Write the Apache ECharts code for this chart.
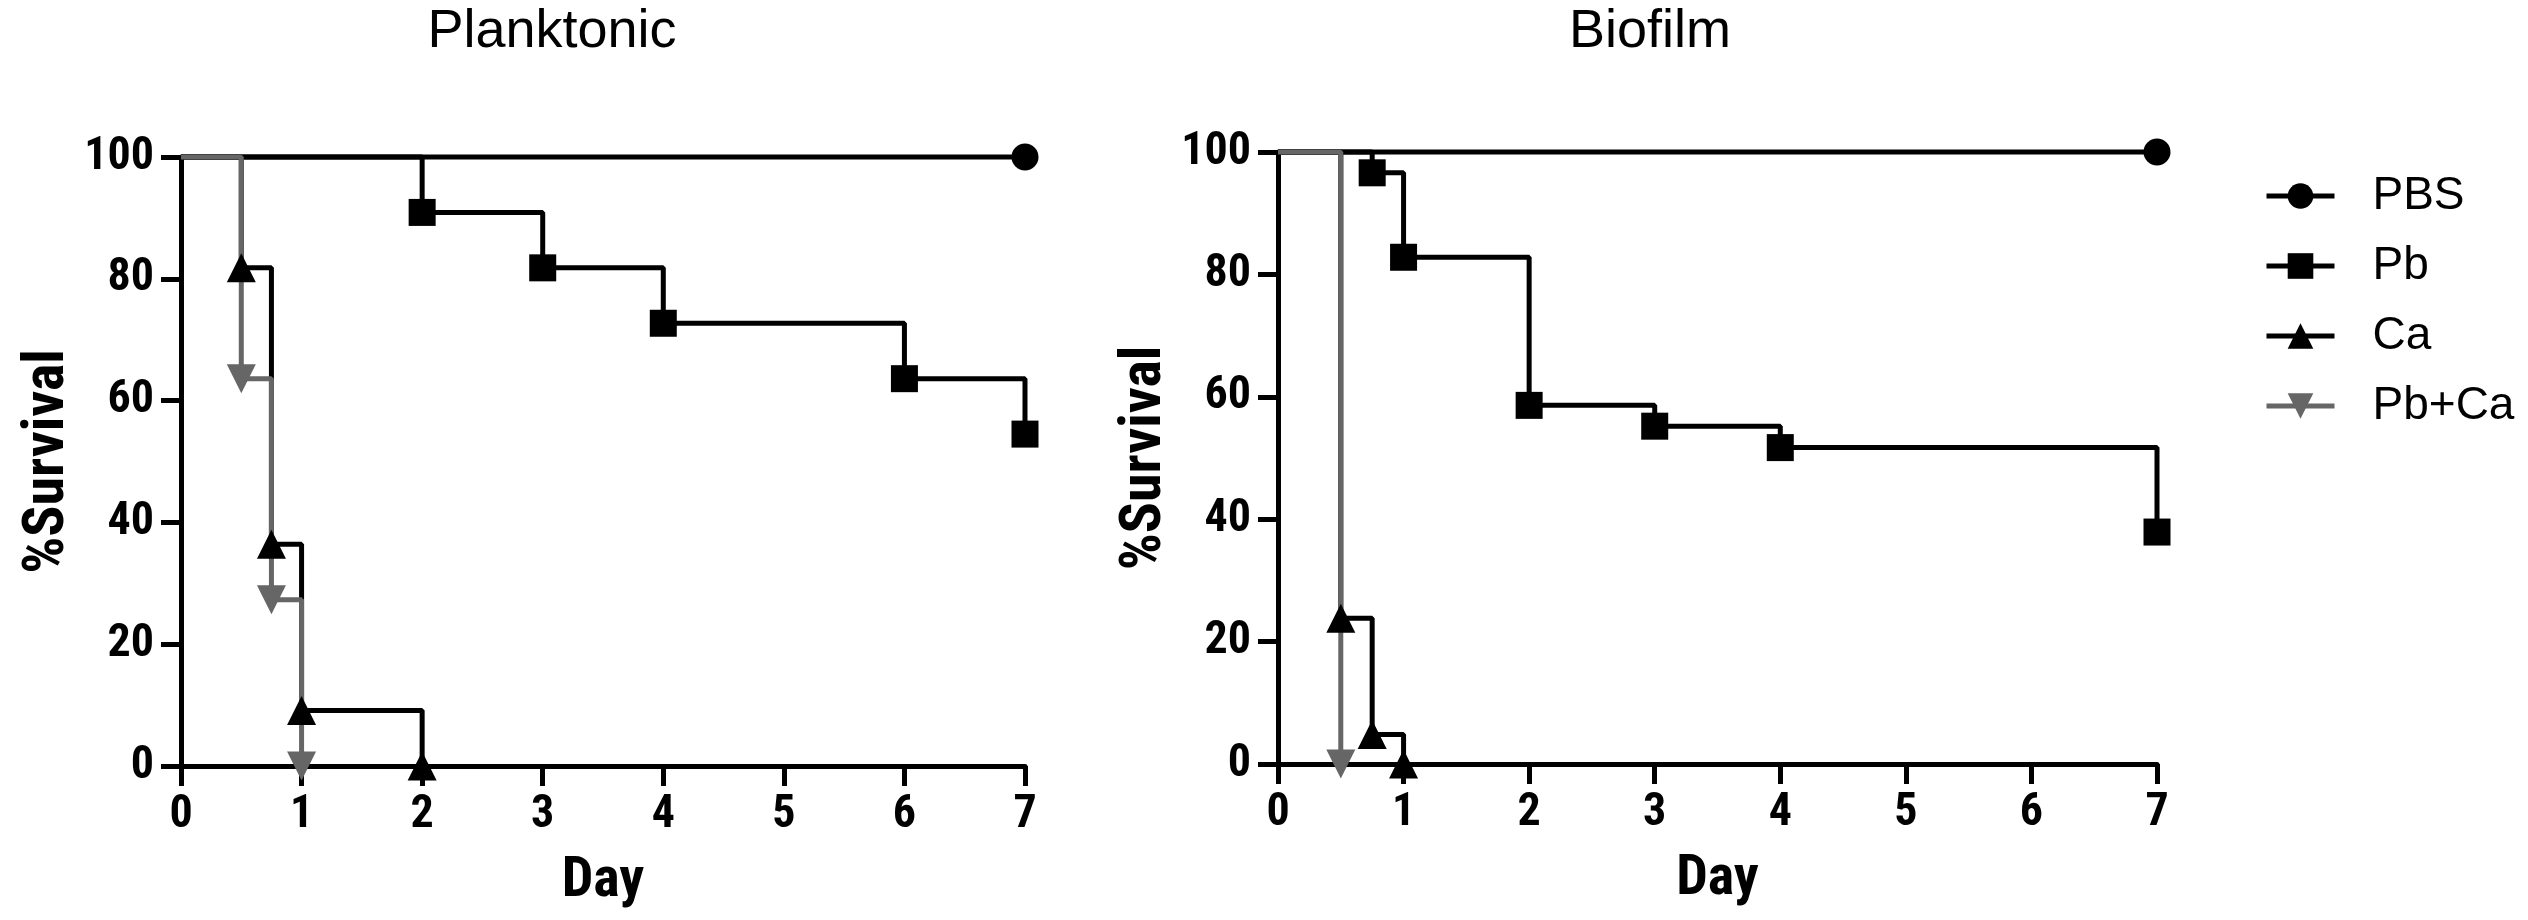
<!DOCTYPE html>
<html>
<head>
<meta charset="utf-8">
<script src="https://cdn.jsdelivr.net/npm/echarts@6/dist/echarts.min.js"></script>
<style>
  html, body { margin: 0; padding: 0; background: #fff; }
  #survival_chart { width: 2528px; height: 920px; }
</style>
</head>
<body>
<div id="survival_chart"></div>
<script>
// Kaplan-Meier style survival data
const legend_ls = ['PBS', 'Pb', 'Ca', 'Pb+Ca'];
const day_ticks = [0, 1, 2, 3, 4, 5, 6, 7];

// Planktonic
const plankPBS_x = [0, 7];
const plankPBS_y = [100, 100];
const plankPb_x = [0, 2, 3, 4, 6, 7];
const plankPb_y = [100, 90.9, 81.8, 72.7, 63.6, 54.5];
const plankCa_x = [0, 0.5, 0.75, 1, 2];
const plankCa_y = [100, 81.8, 36.4, 9.1, 0];
const plankPbCa_x = [0, 0.5, 0.75, 1];
const plankPbCa_y = [100, 63.6, 27.3, 0];

// Biofilm
const bioPBS_x = [0, 7];
const bioPBS_y = [100, 100];
const bioPb_x = [0, 0.75, 1, 2, 3, 4, 7];
const bioPb_y = [100, 96.6, 82.8, 58.6, 55.2, 51.7, 37.9];
const bioCa_x = [0, 0.5, 0.75, 1];
const bioCa_y = [100, 23.8, 4.8, 0];
const bioPbCa_x = [0, 0.5];
const bioPbCa_y = [100, 0];

const color_ls = ['#000000', '#000000', '#000000', '#666666'];
const symbol_ls = ['circle', 'rect', 'triangle', 'path://M0,0 L10,0 L5,9 Z'];
const narrowBold = "'Liberation Sans Narrow', 'Arial Narrow', 'Roboto Condensed', 'Liberation Sans', sans-serif";
const plainFont = "'Liberation Sans', Arial, sans-serif";

// first point is the start of the curve, no marker there
function steps(xs, ys) {
  return xs.map((x, i) => i === 0 ? {value: [x, ys[i]], symbol: 'none'} : [x, ys[i]]);
}

function makeSeries(idx, gridIdx, xs, ys) {
  return {
    name: legend_ls[idx], type: 'line', step: 'end',
    xAxisIndex: gridIdx, yAxisIndex: gridIdx,
    data: steps(xs, ys),
    symbol: symbol_ls[idx], symbolSize: idx >= 2 ? 29 : 27,
    clip: false, silent: true, animation: false,
    lineStyle: {color: color_ls[idx], width: 5},
    itemStyle: {color: color_ls[idx]}
  };
}

function xAxisOpt(gridIdx) {
  return {
    gridIndex: gridIdx, type: 'value', min: 0, max: 7, interval: 1,
    name: 'Day', nameLocation: 'middle', nameGap: 88, nameMoveOverlap: false,
    nameTextStyle: {fontFamily: narrowBold, fontWeight: 'bold', fontSize: 56, color: '#000'},
    axisLine: {lineStyle: {color: '#000', width: 5}},
    axisTick: {length: 20, lineStyle: {color: '#000', width: 5}},
    axisLabel: {margin: 26, fontFamily: narrowBold, fontWeight: 'bold', fontSize: 46, color: '#000',
      formatter: (v) => day_ticks.indexOf(v) >= 0 ? String(v) : ''},
    splitLine: {show: false}
  };
}

function yAxisOpt(gridIdx) {
  return {
    gridIndex: gridIdx, type: 'value', min: 0, max: 100, interval: 20,
    name: '%Survival', nameLocation: 'middle', nameRotate: 90, nameGap: 104, nameMoveOverlap: false,
    nameTextStyle: {fontFamily: narrowBold, fontWeight: 'bold', fontSize: 58, color: '#000'},
    axisLine: {show: true, lineStyle: {color: '#000', width: 5}},
    axisTick: {show: true, length: 20, lineStyle: {color: '#000', width: 5}},
    axisLabel: {margin: 27, fontFamily: narrowBold, fontWeight: 'bold', fontSize: 46, color: '#000'},
    splitLine: {show: false}
  };
}

var chartDom = document.getElementById('survival_chart');
var myChart = echarts.init(chartDom, null, {renderer: 'canvas'});
var option = {
  backgroundColor: '#fff',
  animation: false,
  title: [
    {text: 'Planktonic', left: 552, top: 5, textAlign: 'center', padding: 0,
      textStyle: {fontFamily: plainFont, fontWeight: 'normal', fontSize: 54, color: '#000'}},
    {text: 'Biofilm', left: 1650, top: 5, textAlign: 'center', padding: 0,
      textStyle: {fontFamily: plainFont, fontWeight: 'normal', fontSize: 54, color: '#000'}}
  ],
  legend: {
    data: legend_ls, orient: 'vertical', left: 2264, top: 173, padding: 0,
    itemWidth: 68, itemHeight: 32, itemGap: 24,
    lineStyle: {width: 5},
    selectedMode: false,
    textStyle: {fontFamily: plainFont, fontSize: 46, color: '#000', padding: [0, 0, 0, 33]}
  },
  grid: [
    {left: 181, top: 157, width: 844, height: 609},
    {left: 1278, top: 152, width: 879, height: 612}
  ],
  xAxis: [xAxisOpt(0), xAxisOpt(1)],
  yAxis: [yAxisOpt(0), yAxisOpt(1)],
  series: [
    makeSeries(0, 0, plankPBS_x, plankPBS_y),
    makeSeries(1, 0, plankPb_x, plankPb_y),
    makeSeries(2, 0, plankCa_x, plankCa_y),
    makeSeries(3, 0, plankPbCa_x, plankPbCa_y),
    makeSeries(0, 1, bioPBS_x, bioPBS_y),
    makeSeries(1, 1, bioPb_x, bioPb_y),
    makeSeries(2, 1, bioCa_x, bioCa_y),
    makeSeries(3, 1, bioPbCa_x, bioPbCa_y)
  ]
};
option && myChart.setOption(option);
</script>
</body>
</html>
